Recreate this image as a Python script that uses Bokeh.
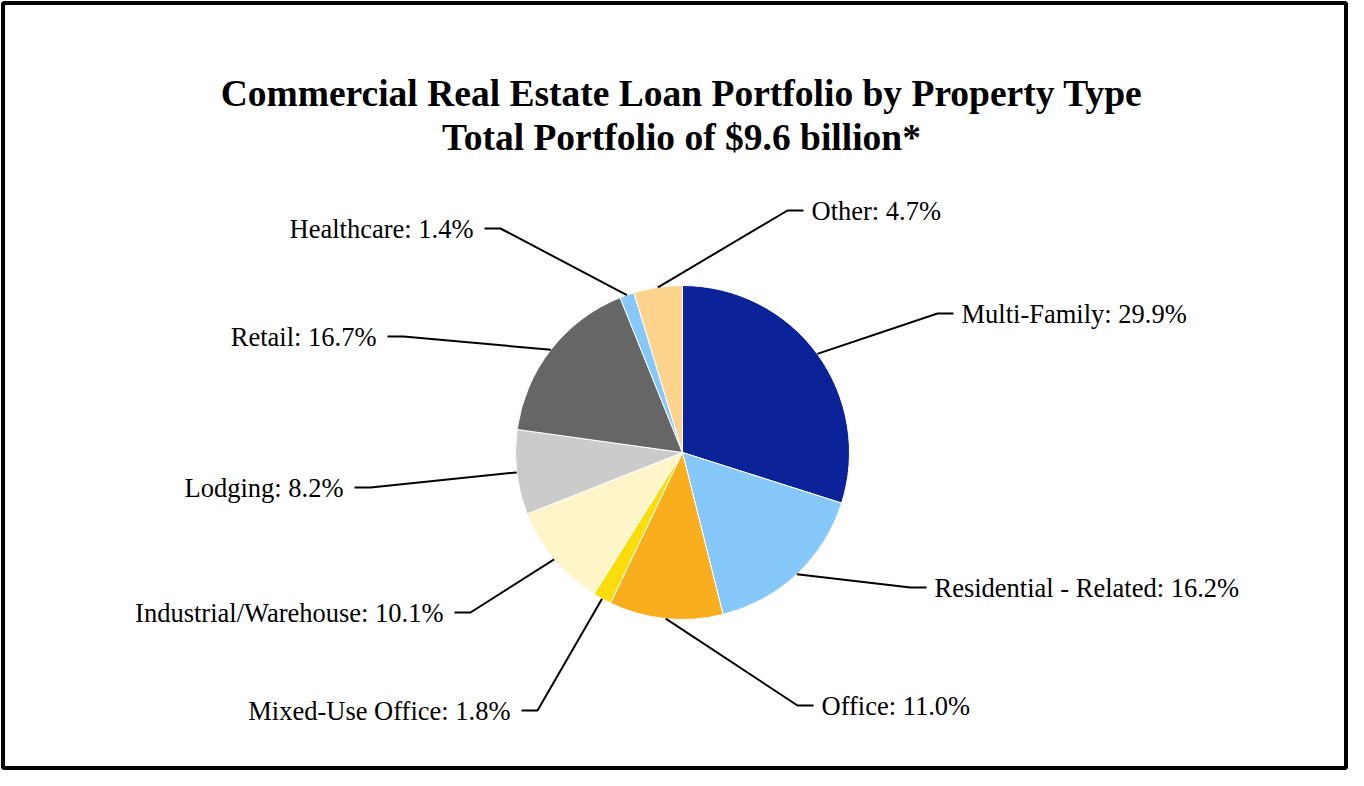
import math
from bokeh.plotting import figure
from bokeh.models import Range1d
from bokeh.core.properties import value
from bokeh.embed import file_html
from bokeh.resources import INLINE

# ---- data ----
categories = ["Multi-Family", "Residential - Related", "Office", "Mixed-Use Office",
              "Industrial/Warehouse", "Lodging", "Retail", "Healthcare", "Other"]
shares = [29.9, 16.2, 11.0, 1.8, 10.1, 8.2, 16.7, 1.4, 4.7]
colors = ["#0B2299", "#87C8FA", "#F9AE1D", "#FADD0A", "#FEF6C9",
          "#CBCBCB", "#666666", "#87C8FA", "#FDD48E"]
title_lines = ["Commercial Real Estate Loan Portfolio by Property Type",
               "Total Portfolio of $9.6 billion*"]

# ---- layout (pixel positions of label elbows, side of label) ----
elbow_x = [937, 910, 797, 537, 470, 370, 403, 500, 787]
elbow_y = [313, 587, 705, 710, 612, 487, 336, 228, 210]
side = ["R", "R", "R", "L", "L", "L", "L", "L", "R"]

W, H = 1348, 770
REF_H = 786


def Y(py):
    return REF_H - py


p = figure(width=W, height=H, output_backend="svg", toolbar_location=None,
           x_range=Range1d(0, W), y_range=Range1d(REF_H - H, REF_H),
           min_border=0)
p.axis.visible = False
p.grid.visible = False
p.outline_line_color = None
p.background_fill_color = "white"
p.border_fill_color = "white"

# frame
p.quad(left=[2.5], right=[W - 2.5], bottom=[Y(H - 2.5)], top=[Y(2.5)],
       fill_color=None, line_color="black", line_width=4)

cx, cy, r = 682, 452, 167
total = sum(shares)
cum = 0.0
starts, ends, mids = [], [], []
for s in shares:
    c0 = cum / total
    cum += s
    c1 = cum / total
    starts.append(math.pi / 2 - c1 * 2 * math.pi)
    ends.append(math.pi / 2 - c0 * 2 * math.pi)
    mids.append((c0 + c1) / 2)

p.wedge(x=[cx] * len(shares), y=[Y(cy)] * len(shares), radius=r,
        start_angle=starts, end_angle=ends, direction="anticlock",
        fill_color=colors, line_color="white", line_width=1)

# leader lines and labels
xs, ys = [], []
tx_l, ty_l, txt_l = [], [], []
tx_r, ty_r, txt_r = [], [], []
HL = 16
for i, m in enumerate(mids):
    th = m * 2 * math.pi
    px = cx + r * math.sin(th)
    py = cy - r * math.cos(th)
    ex, ey = elbow_x[i], elbow_y[i]
    label = f"{categories[i]}: {shares[i]:.1f}%"
    if side[i] == "R":
        hx = ex + HL
        tx_r.append(hx + 8); ty_r.append(Y(ey)); txt_r.append(label)
    else:
        hx = ex - HL
        tx_l.append(hx - 11); ty_l.append(Y(ey)); txt_l.append(label)
    xs.append([px, ex, hx])
    ys.append([Y(py), Y(ey), Y(ey)])

p.multi_line(xs=xs, ys=ys, line_color="black", line_width=2)

font = value("Liberation Serif")
p.text(x=tx_r, y=ty_r, text=txt_r, text_font=font, text_font_size=value("26.5px"),
       text_align="left", text_baseline="middle", text_color="black")
p.text(x=tx_l, y=ty_l, text=txt_l, text_font=font, text_font_size=value("26.5px"),
       text_align="right", text_baseline="middle", text_color="black")

# title
p.text(x=[681, 681], y=[Y(93), Y(137)], text=title_lines, text_font=font,
       text_font_size=value("37.5px"), text_font_style="bold", text_align="center",
       text_baseline="alphabetic", text_color="black")

open("out.html", "w").write(file_html(p, INLINE))
